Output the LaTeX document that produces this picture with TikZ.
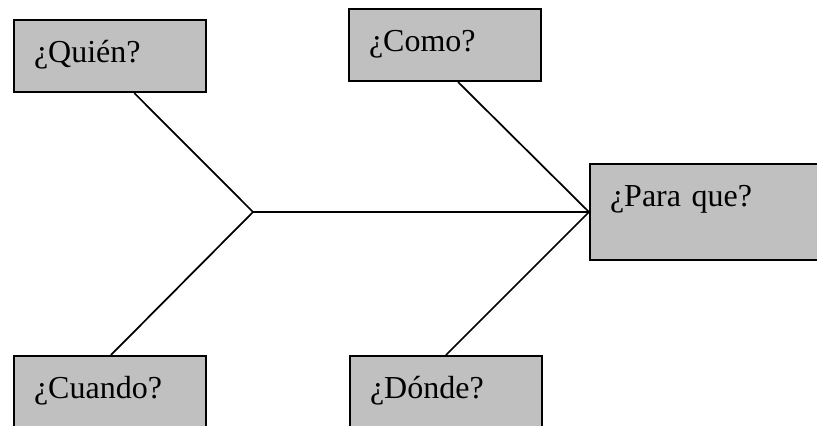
\documentclass[tikz,border=0pt]{standalone}
\usepackage{fontspec}
\setmainfont{Liberation Serif}
\usetikzlibrary{calc}
\definecolor{boxgray}{RGB}{192,192,192}

\tikzset{
    question/.style={draw=black, fill=boxgray, line width=1.5pt, anchor=north west, align=left,
        inner xsep=15pt, inner ysep=0pt, text height=31.5pt, font=\fontsize{24}{28}\selectfont},
    side box/.style={question, text width=114pt, text depth=22.5pt},
    head box/.style={question, text width=150.75pt, text depth=40.5pt},
    bone/.style={line width=1.3pt},
}

\begin{document}
\begin{tikzpicture}[x=0.75pt, y=-0.75pt]
                \clip (0,0) rectangle (817,425);
                \node[side box] (quien) at (13,19) {¿Quién?};
                \node[side box] (como) at (348,8) {¿Como?};
                \node[head box] (paraque) at (589,163) {¿Para que?};
                \node[side box] (cuando) at (13,355) {¿Cuando?};
                \node[side box] (donde) at (349,355) {¿Dónde?};
                \coordinate (tail) at (253,212);
                \draw[bone] ($(quien.south west)!0.625!(quien.south east)$) -- (tail);
                \draw[bone] (tail) -- ($(cuando.north west)!0.505!(cuando.north east)$);
                \draw[bone] (tail) -- (paraque.west);
                \draw[bone] ($(como.south west)!0.567!(como.south east)$) -- (paraque.west);
                \draw[bone] (paraque.west) -- (donde.north);
            \end{tikzpicture}
\end{document}
